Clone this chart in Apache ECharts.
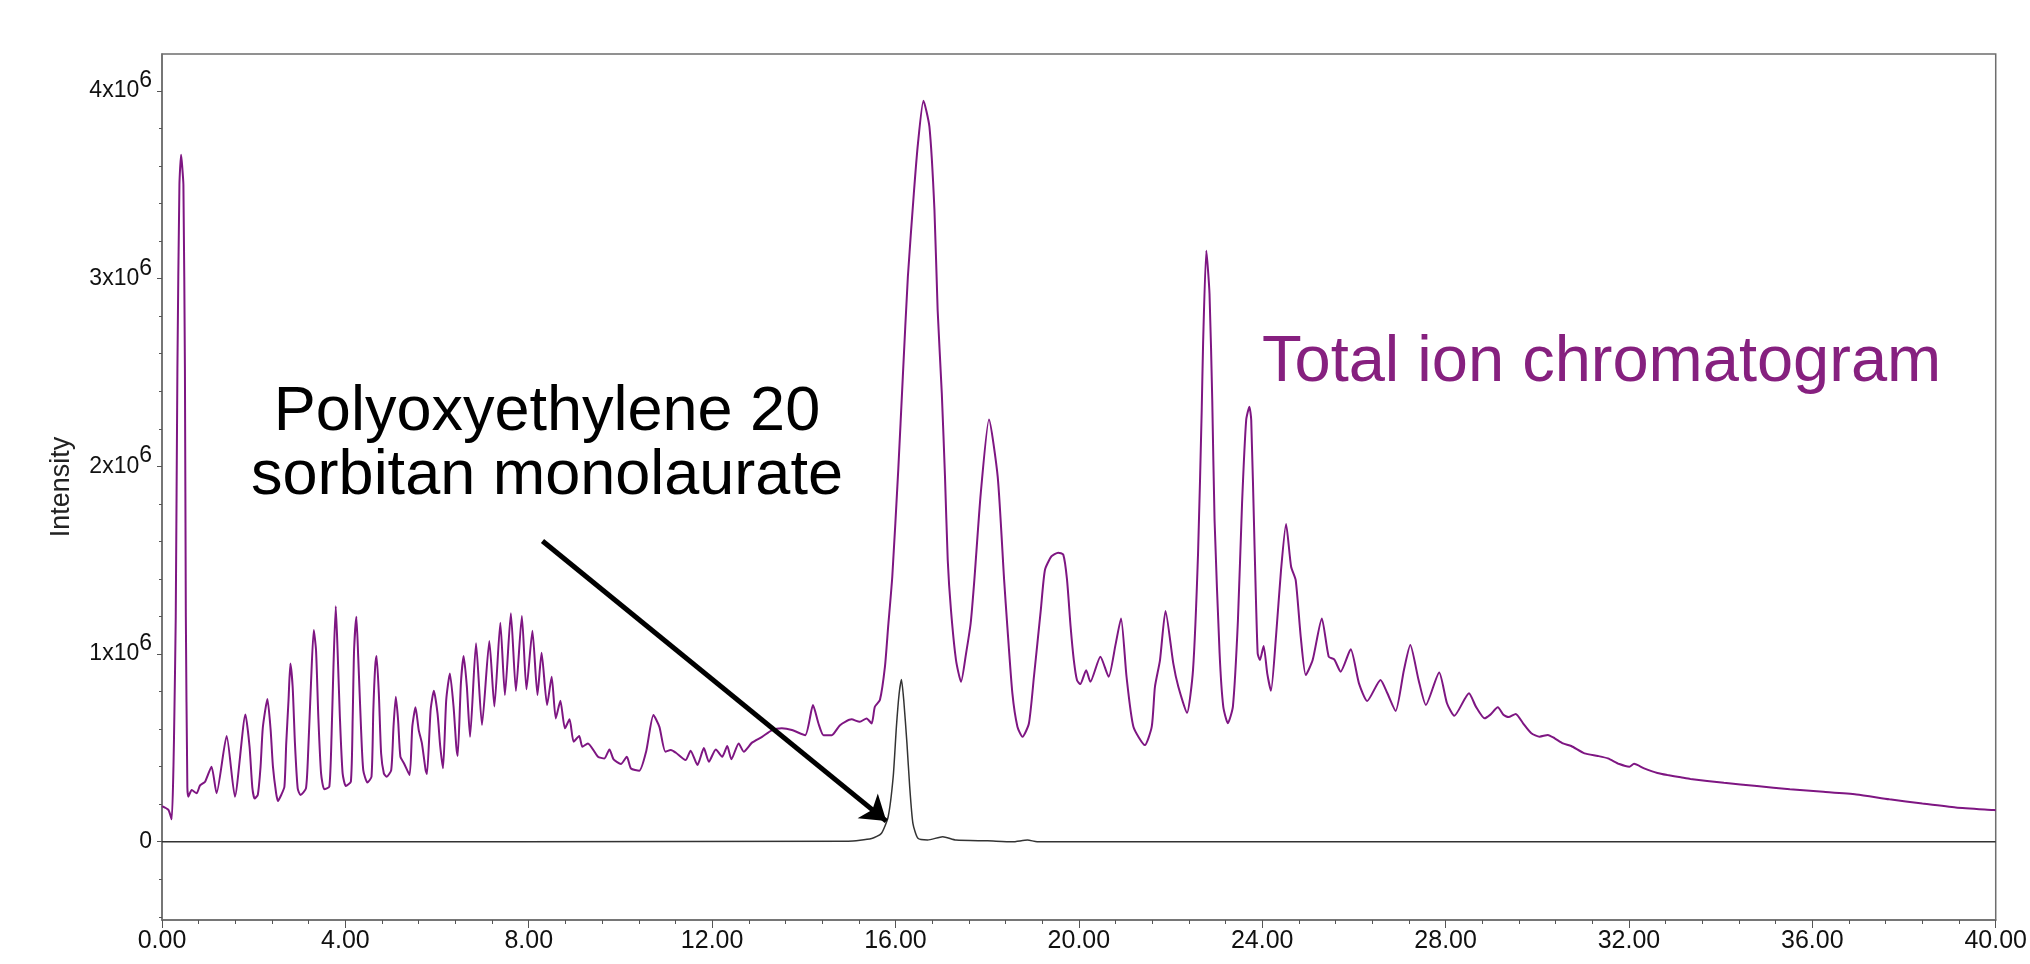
<!DOCTYPE html>
<html style="height: 100%">

<head>
    <meta charset="utf-8">
    <title>Total ion chromatogram</title>
</head>

<body style="height: 100%; margin: 0;">
    <div id="container" style="width: 2030px; height: 964px"></div>
    <script src="https://cdn.jsdelivr.net/npm/echarts@6/dist/echarts.min.js"></script>
    <script type="text/javascript">
        // total ion chromatogram, [retention time (min), intensity (x10^6)]
        var ticData = [
            [0, 0.19], [0.14, 0.17], [0.21, 0.12], [0.25, 0.40], [0.27, 0.68], [0.30, 1.20], [0.336, 2.52],
            [0.38, 3.50], [0.417, 3.66], [0.44, 3.60], [0.467, 3.50], [0.50, 2.52], [0.52, 1.20], [0.553, 0.29],
            [0.575, 0.24], [0.648, 0.275], [0.756, 0.258], [0.83, 0.30], [0.94, 0.32], [1.08, 0.40], [1.19, 0.258],
            [1.41, 0.563], [1.59, 0.24], [1.82, 0.678], [1.91, 0.506], [1.97, 0.29], [2.02, 0.23], [2.09, 0.25],
            [2.15, 0.40], [2.20, 0.61], [2.30, 0.76], [2.37, 0.595], [2.42, 0.40], [2.49, 0.258], [2.53, 0.217],
            [2.60, 0.249], [2.67, 0.293], [2.71, 0.524], [2.76, 0.755], [2.80, 0.95], [2.85, 0.826], [2.90, 0.524],
            [2.96, 0.284], [3.02, 0.249], [3.14, 0.284], [3.19, 0.488], [3.25, 0.844], [3.31, 1.128], [3.36, 1.02],
            [3.41, 0.666], [3.47, 0.364], [3.54, 0.279], [3.65, 0.293], [3.70, 0.577], [3.74, 0.932], [3.79, 1.255],
            [3.83, 1.02], [3.88, 0.666], [3.94, 0.364], [4.01, 0.297], [4.12, 0.32], [4.16, 0.666], [4.19, 1.02],
            [4.24, 1.199], [4.28, 0.985], [4.34, 0.613], [4.39, 0.382], [4.48, 0.315], [4.57, 0.346], [4.61, 0.702],
            [4.65, 0.932], [4.68, 0.99], [4.73, 0.79], [4.78, 0.47], [4.84, 0.364], [4.90, 0.346], [5.00, 0.382],
            [5.05, 0.613], [5.10, 0.772], [5.15, 0.648], [5.20, 0.453], [5.28, 0.417], [5.40, 0.355], [5.46, 0.613],
            [5.53, 0.716], [5.60, 0.595], [5.67, 0.524], [5.75, 0.382], [5.78, 0.361], [5.86, 0.702], [5.93, 0.805],
            [6.01, 0.684], [6.07, 0.506], [6.13, 0.391], [6.20, 0.755], [6.28, 0.897], [6.36, 0.72], [6.42, 0.506],
            [6.45, 0.457], [6.52, 0.844], [6.58, 0.99], [6.65, 0.826], [6.72, 0.559], [6.85, 1.057], [6.98, 0.622],
            [7.14, 1.069], [7.25, 0.72], [7.38, 1.167], [7.48, 0.782], [7.61, 1.217], [7.72, 0.803], [7.85, 1.203],
            [7.95, 0.812], [8.08, 1.124], [8.19, 0.782], [8.28, 1.007], [8.40, 0.728], [8.50, 0.879], [8.59, 0.657],
            [8.69, 0.751], [8.79, 0.604], [8.89, 0.652], [8.98, 0.533], [9.10, 0.563], [9.17, 0.506], [9.29, 0.524],
            [9.51, 0.453], [9.65, 0.444], [9.76, 0.492], [9.85, 0.439], [10.01, 0.414], [10.14, 0.453], [10.23, 0.39],
            [10.41, 0.378], [10.56, 0.48], [10.72, 0.675], [10.85, 0.612], [10.98, 0.48], [11.10, 0.489],
            [11.21, 0.474], [11.42, 0.435], [11.53, 0.485], [11.68, 0.409], [11.82, 0.499], [11.93, 0.426],
            [12.08, 0.492], [12.22, 0.453], [12.33, 0.51], [12.42, 0.439], [12.58, 0.524], [12.69, 0.48],
            [12.87, 0.528], [13.09, 0.559], [13.31, 0.595], [13.52, 0.604], [13.74, 0.595], [14.03, 0.568],
            [14.20, 0.728], [14.32, 0.63], [14.43, 0.568], [14.61, 0.568], [14.79, 0.621], [15.04, 0.652],
            [15.22, 0.639], [15.37, 0.657], [15.48, 0.63], [15.55, 0.719], [15.66, 0.755], [15.77, 0.933],
            [15.84, 1.146], [15.93, 1.412], [16.06, 1.98], [16.16, 2.478], [16.27, 3.01], [16.40, 3.454],
            [16.49, 3.72], [16.61, 3.948], [16.74, 3.81], [16.85, 3.365], [16.92, 2.83], [17.01, 2.39],
            [17.08, 1.944], [17.14, 1.50], [17.21, 1.235], [17.32, 0.968], [17.43, 0.852], [17.54, 1.004],
            [17.64, 1.164], [17.72, 1.394], [17.86, 1.856], [18.04, 2.25], [18.23, 1.944], [18.37, 1.394],
            [18.44, 1.146], [18.55, 0.79], [18.66, 0.613], [18.77, 0.559], [18.91, 0.63], [19.02, 0.879],
            [19.17, 1.235], [19.26, 1.448], [19.40, 1.52], [19.55, 1.54], [19.66, 1.53], [19.74, 1.40],
            [19.82, 1.146], [19.89, 0.968], [19.96, 0.86], [20.03, 0.84], [20.16, 0.914], [20.25, 0.852],
            [20.47, 0.986], [20.65, 0.879], [20.80, 1.05], [20.92, 1.19], [21.04, 0.879], [21.19, 0.613],
            [21.44, 0.515], [21.59, 0.613], [21.66, 0.826], [21.77, 0.968], [21.89, 1.23], [22.06, 0.95],
            [22.17, 0.826], [22.36, 0.687], [22.49, 0.914], [22.60, 1.537], [22.68, 2.30], [22.71, 2.655],
            [22.78, 3.149], [22.85, 2.92], [22.91, 2.35], [22.96, 1.714], [23.07, 1.004], [23.15, 0.72],
            [23.25, 0.631], [23.36, 0.72], [23.47, 1.18], [23.56, 1.803], [23.65, 2.247], [23.72, 2.318],
            [23.76, 2.247], [23.83, 1.60], [23.90, 1.004], [23.95, 0.968], [24.03, 1.043], [24.11, 0.896],
            [24.19, 0.804], [24.30, 1.092], [24.41, 1.447], [24.52, 1.693], [24.63, 1.465], [24.73, 1.394],
            [24.84, 1.092], [24.95, 0.888], [25.10, 0.968], [25.30, 1.19], [25.45, 0.986], [25.57, 0.972],
            [25.71, 0.906], [25.93, 1.025], [26.11, 0.844], [26.29, 0.75], [26.58, 0.862], [26.73, 0.791],
            [26.91, 0.697], [27.09, 0.914], [27.23, 1.048], [27.41, 0.862], [27.57, 0.729], [27.86, 0.902],
            [28.03, 0.738], [28.19, 0.671], [28.51, 0.791], [28.66, 0.72], [28.85, 0.658], [28.97, 0.676],
            [29.14, 0.716], [29.26, 0.676], [29.37, 0.664], [29.53, 0.681], [29.69, 0.631], [29.87, 0.578],
            [30.05, 0.56], [30.23, 0.569], [30.38, 0.551], [30.56, 0.524], [30.74, 0.51], [31.03, 0.471],
            [31.32, 0.457], [31.54, 0.444], [31.79, 0.414], [32.01, 0.40], [32.11, 0.415], [32.33, 0.391],
            [32.62, 0.366], [32.84, 0.355], [33.13, 0.343], [33.34, 0.334], [34.07, 0.314], [34.79, 0.297],
            [35.51, 0.279], [36.24, 0.266], [36.96, 0.252], [37.68, 0.226], [38.40, 0.204], [39.13, 0.183],
            [39.93, 0.169], [40.00, 0.168]
        ];

        // extracted trace of polyoxyethylene 20 sorbitan monolaurate
        var eicData = [
            [0, 0], [14.97, 0.003], [15.48, 0.017], [15.69, 0.044], [15.84, 0.133], [15.95, 0.346], [16.02, 0.613],
            [16.08, 0.79], [16.13, 0.865], [16.18, 0.755], [16.25, 0.524], [16.31, 0.293], [16.38, 0.098],
            [16.49, 0.018], [16.70, 0.009], [17.03, 0.027], [17.32, 0.009], [18.01, 0.005], [18.55, 0],
            [18.88, 0.009], [19.09, 0], [40, 0]
        ];

        // y ticks (x10^6)
        var yMajor = [0, 1, 2, 3, 4];
        var yMinor = [-0.4, -0.2, 0.2, 0.4, 0.6, 0.8, 1.2, 1.4, 1.6, 1.8, 2.2, 2.4, 2.6, 2.8, 3.2, 3.4, 3.6, 3.8, 4.2];

        // arrow from the label to the peak [time, intensity]
        var arrowFrom = [8.30, 1.602];
        var arrowTo = [15.80, 0.11];

        var FONT = '"Liberation Sans", Arial, sans-serif';
        var dom = document.getElementById("container");
        var myChart = echarts.init(dom);
        var option = {
            animation: false,
            backgroundColor: '#fff',
            grid: {
                left: 162, right: 23, top: 54, bottom: 44,
                show: true, borderColor: '#6e6e6e', borderWidth: 1.5
            },
            xAxis: {
                type: 'value', min: 0, max: 40, interval: 4,
                axisLine: { onZero: false, lineStyle: { color: '#6e6e6e', width: 1.5 } },
                axisTick: { length: 8, lineStyle: { color: '#555' } },
                minorTick: { show: true, splitNumber: 5, length: 4, lineStyle: { color: '#555' } },
                splitLine: { show: false },
                axisLabel: {
                    fontSize: 25, color: '#111', fontFamily: FONT, margin: 9,
                    formatter: function (v) { return v.toFixed(2); }
                }
            },
            yAxis: [{
                type: 'value', min: -0.417, max: 4.197, position: 'left',
                name: 'Intensity', nameLocation: 'middle', nameGap: 87,
                nameTextStyle: { fontSize: 27, color: '#222', fontFamily: FONT },
                axisLine: { show: true, onZero: false, lineStyle: { color: '#6e6e6e', width: 1.5 } },
                axisTick: { show: true, length: 5, customValues: yMajor, lineStyle: { color: '#555' } },
                splitLine: { show: false },
                axisLabel: {
                    customValues: yMajor, margin: 10,
                    formatter: function (v) { return v === 0 ? '{b|0}' : '{b|' + v + 'x10}{s|6}'; },
                    rich: {
                        b: { fontSize: 23, color: '#111', fontFamily: FONT },
                        s: { fontSize: 23, color: '#111', fontFamily: FONT, verticalAlign: 'top', padding: [0, 0, 21, 0] }
                    }
                }
            }, {
                type: 'value', min: -0.417, max: 4.197, position: 'left', offset: 0,
                axisLine: { show: false },
                axisTick: { show: true, length: 3, customValues: yMinor, lineStyle: { color: '#555' } },
                axisLabel: { show: false, customValues: yMinor },
                splitLine: { show: false }
            }],
            series: [{
                name: 'Total ion chromatogram',
                type: 'line',
                data: ticData,
                showSymbol: false,
                smooth: 0.2,
                lineStyle: { color: '#7e1682', width: 2 },
                z: 2
            }, {
                name: 'Polyoxyethylene 20 sorbitan monolaurate',
                type: 'line',
                data: eicData,
                showSymbol: false,
                smooth: 0.2,
                lineStyle: { color: '#333', width: 1.5 },
                z: 3,
                markLine: {
                    silent: true,
                    symbol: ['none', 'arrow'],
                    symbolSize: 24,
                    label: { show: false },
                    lineStyle: { color: '#000', width: 5, type: 'solid' },
                    emphasis: { disabled: true },
                    data: [[{ coord: arrowFrom }, { coord: arrowTo }]]
                }
            }],
            graphic: [{
                type: 'text', z: 10,
                style: {
                    text: 'Total ion chromatogram', x: 1262, y: 363,
                    fill: '#86207f', fontSize: 65, fontFamily: FONT, verticalAlign: 'middle'
                }
            }, {
                type: 'text', z: 10,
                style: {
                    text: 'Polyoxyethylene 20\nsorbitan monolaurate', x: 547, y: 445,
                    fill: '#000', fontSize: 63, lineHeight: 64, fontFamily: FONT,
                    align: 'center', verticalAlign: 'middle'
                }
            }]
        };
        myChart.setOption(option);
    </script>
</body>

</html>
